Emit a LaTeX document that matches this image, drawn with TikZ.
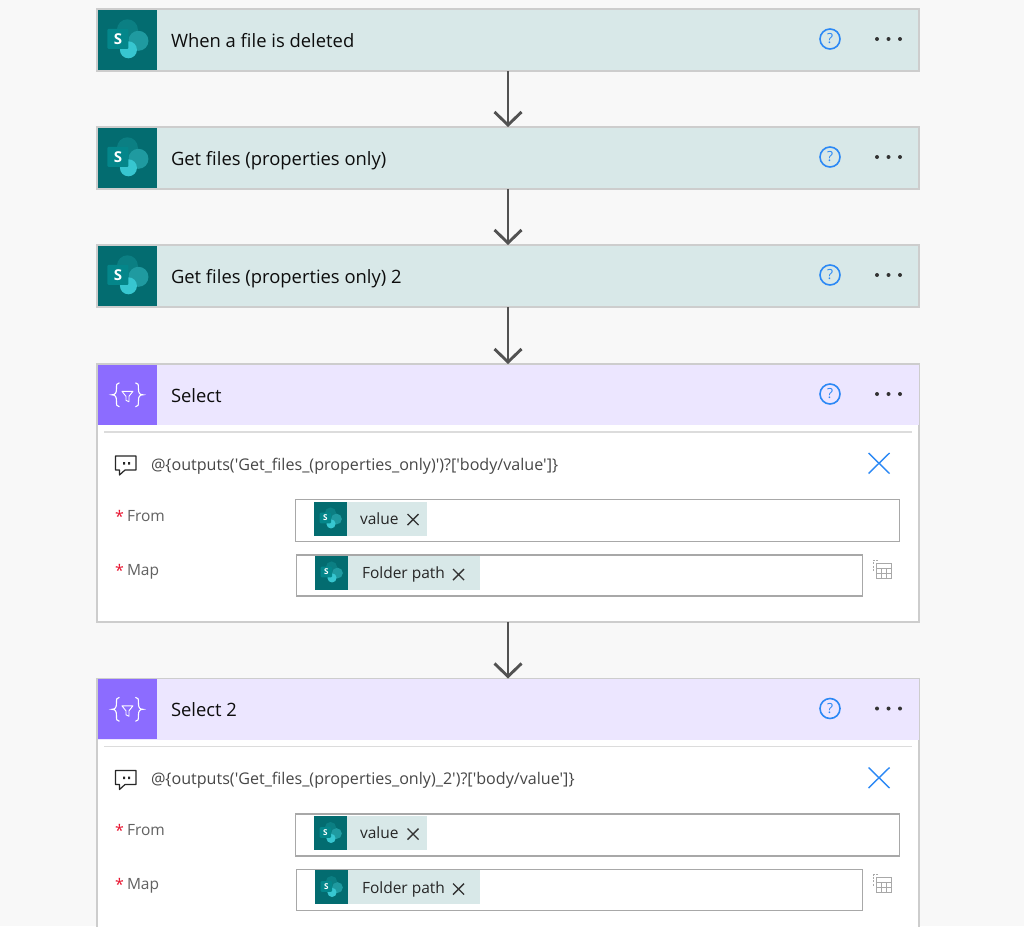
\documentclass[tikz,border=0pt]{standalone}
\usepackage{fontspec}
\usetikzlibrary{arrows.meta}
\newfontfamily\uifont{Open Sans}
\definecolor{spdark}{HTML}{036C70}
\definecolor{sptop}{HTML}{0B7F83}
\definecolor{spmid}{HTML}{1F9AA0}
\definecolor{splight}{HTML}{37C6D0}
\definecolor{spsq}{HTML}{04868A}
\definecolor{sphead}{HTML}{D8E8E8}
\definecolor{selpurple}{HTML}{8C6CFF}
\definecolor{selhead}{HTML}{ECE6FF}
\definecolor{helpblue}{HTML}{2B88F5}
\definecolor{rimgray}{HTML}{CDCDCD}
\definecolor{boxgray}{HTML}{A8A8A8}
\definecolor{starred}{HTML}{E8112D}
\tikzset{
    every node/.style={inner sep=0pt,outer sep=0pt,font=\uifont\fontsize{18.4}{20}\selectfont},
    flowarrow/.style={draw=black!68,line width=2.9pt,-{Straight Barb[length=13pt,width=27pt,line width=2.9pt]}},
    cardbox/.style={draw=rimgray,line width=1.2pt,anchor=north west,minimum width=822pt},
    headbar/.style={anchor=north west,minimum height=60.5pt,minimum width=821pt},
    iconbox/.style={anchor=north west,minimum width=59.5pt,minimum height=60pt},
    headtext/.style={anchor=base west,text=black!95},
    helpring/.style={circle,draw=helpblue,line width=1.6pt,minimum size=20pt,text=helpblue,font=\uifont\fontsize{14}{14}\selectfont},
    fieldbox/.style={draw=boxgray,line width=1.4pt,fill=white,anchor=north west},
    chipbar/.style={fill=sphead,anchor=north west,minimum height=34pt},
    chipicon/.style={fill=spdark,anchor=north west,minimum width=33pt,minimum height=34pt},
    starmark/.style={text=starred,font=\uifont\fontsize{16}{16}\selectfont},
    fieldlabel/.style={anchor=base west,text=black!62,font=\uifont\fontsize{15.5}{16}\selectfont},
    chiptext/.style={anchor=base west,text=black!85,font=\uifont\fontsize{15.5}{16}\selectfont},
    exprtext/.style={anchor=base west,text=black!72,font=\uifont\fontsize{16.1}{17}\selectfont},
    pics/spicon/.style={code={
        \fill[sptop] (0,-10) circle (10.5);
        \fill[spmid] (11,1) circle (10);
        \fill[splight] (1,10) circle (8.5);
        \fill[spsq,rounded corners=1pt] (-20,-11) rectangle (1,9);
        \node[transform shape,text=white,font=\uifont\bfseries\fontsize{15}{15}\selectfont] at (-9.5,-1) {S};
    }},
    pics/selicon/.style={code={
        \foreach \s in {-1,1}
            \draw[white,line width=1.1pt,xscale=\s] (8,-12) .. controls (11,-12) and (11,-10) .. (11,-6) .. controls (11,-2) and (12,0) .. (15.5,0) .. controls (12,0) and (11,2) .. (11,6) .. controls (11,10) and (11,12) .. (8,12);
        \draw[white,line width=.9pt,line join=round] (-5.5,-3.5) -- (5.5,-3.5) -- (1.5,1.5) -- (1.5,7) -- (-1.5,5.5) -- (-1.5,1.5) -- cycle;
    }},
    pics/helpdots/.style={code={
        \node[helpring] at (-58.5,0) {?};
        \foreach \d in {-11.5,0,11.5}
            \fill[black!80] (\d,0) circle (2);
    }},
    pics/xmark/.style={code={
        \draw[black!80,line width=1.4pt] (-5.5,-5.5) -- (5.5,5.5) (-5.5,5.5) -- (5.5,-5.5);
    }}
}
\begin{document}
\begin{tikzpicture}[x=1pt,y=-1pt]
\useasboundingbox[fill={rgb,255:red,248;green,248;blue,248}] (0,0) rectangle (1024,926);
\foreach \i/\y/\t in {1/9/When a file is deleted,2/127/Get files (properties only),3/245/Get files (properties only) 2} {
    \node[cardbox,minimum height=62pt,fill=sphead] (card\i) at (97,\y) {};
    \node[iconbox,fill=spdark] (icon\i) at (97.7,\y+.8) {};
    \pic at (icon\i.center) {spicon};
    \node[headtext] (title\i) at (171,\y+38) {\t};
    \pic at (888.5,\y+30) {helpdots};
}
\foreach \i/\y/\h/\t/\e in {
    4/364/258/Select/{@\{outputs('Get\_files\_(properties\_only)')?['body/value']\}},
    5/678.5/260/Select 2/{@\{outputs('Get\_files\_(properties\_only)\_2')?['body/value']\}}} {
    \node[cardbox,minimum height=\h pt,fill=white] (card\i) at (97,\y) {};
    \node[headbar,fill=selhead] (head\i) at (97.5,\y+.5) {};
    \node[iconbox,fill=selpurple] (icon\i) at (97.7,\y+.8) {};
    \pic at (icon\i.center) {selicon};
    \node[headtext] (title\i) at (171,\y+38) {\t};
    \pic at (888.5,\y+30) {helpdots};
    \draw[rimgray!70,line width=1.4pt] (104,\y+68) -- (912,\y+68);
    \draw[black!85,line width=1.2pt,line join=round] (115.5,\y+92) -- (136,\y+92) -- (136,\y+106) -- (125,\y+106) -- (119.5,\y+111) -- (119.5,\y+106) -- (115.5,\y+106) -- cycle;
    \fill[black!85] (123,\y+98) rectangle +(2,2.5) (128,\y+98) rectangle +(2,2.5);
    \node[exprtext] (expr\i) at (151,\y+106) {\e};
    \draw[helpblue,line width=1.4pt] (868.5,\y+89) -- (889.5,\y+109.5) (889.5,\y+89) -- (868.5,\y+109.5);
    \node[starmark] (star\i a) at (119.5,\y+152) {*};
    \node[fieldlabel] (from\i) at (127,\y+157) {From};
    \node[starmark] (star\i b) at (119.5,\y+206) {*};
    \node[fieldlabel] (map\i) at (127,\y+211) {Map};
    \node[fieldbox,minimum width=604pt,minimum height=42pt] (frombox\i) at (295.5,\y+135.5) {};
    \node[chipbar,minimum width=113pt] (fromchip\i) at (314,\y+137.5) {};
    \node[chipicon] (fromicon\i) at (314,\y+137.5) {};
    \pic[scale=.54] at (fromicon\i.center) {spicon};
    \node[chiptext] (fromval\i) at (360,\y+160) {value};
    \pic at (413,\y+155.5) {xmark};
    \node[fieldbox,minimum width=566pt,minimum height=41pt] (mapbox\i) at (296.5,\y+191) {};
    \node[chipbar,minimum width=165pt] (mapchip\i) at (315,\y+191.5) {};
    \node[chipicon] (mapicon\i) at (315,\y+191.5) {};
    \pic[scale=.54] at (mapicon\i.center) {spicon};
    \node[chiptext] (mapval\i) at (362,\y+214.5) {Folder path};
    \pic at (458.5,\y+210.5) {xmark};
    \draw[boxgray,line width=1pt,dash pattern=on 2pt off 1.5pt] (878,\y+196) -- (873,\y+196) -- (873,\y+208);
    \draw[boxgray,line width=1pt] (876,\y+199) rectangle (891,\y+214) (876,\y+204) -- (891,\y+204) (876,\y+209) -- (891,\y+209) (881,\y+204) -- (881,\y+214) (886,\y+204) -- (886,\y+214);
}
\foreach \a/\b in {1/2,2/3,3/4,4/5}
    \draw[flowarrow] (card\a.south -| 508,0) -- (card\b.north -| 508,0);
\end{tikzpicture}
\end{document}
